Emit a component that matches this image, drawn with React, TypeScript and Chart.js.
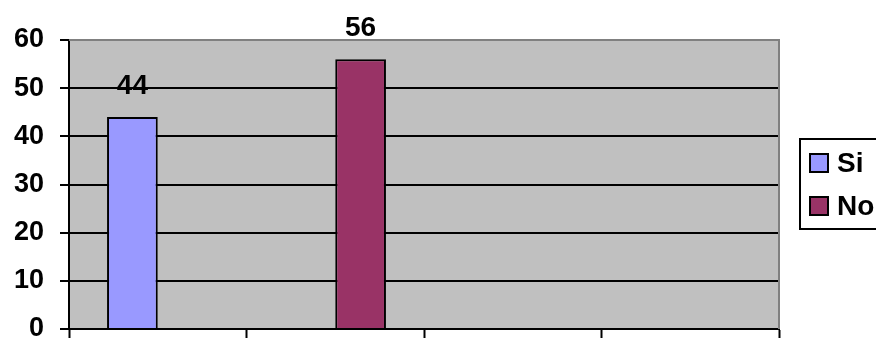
import { useEffect, useRef } from 'react';
import { Chart, registerables } from 'chart.js';

Chart.register(...registerables);

// Survey answers: each series occupies its own slot in a grouped column chart
const categories = ['1', '2', '3', '4'];
const seriesNames = ['Si', 'No'];
const siValues = [44, null, null, null];
const noValues = [null, 56, null, null];
const seriesColors = ['#9999FF', '#993366'];
const yMin = 0;
const yMax = 60;
const yStep = 10;

const FONT = '"Liberation Sans", Arial, sans-serif';

// Gray plot background with a gray frame on the top and right edges
const plotFrame = {
  id: 'plotFrame',
  beforeDraw(chart: any) {
    const { ctx, chartArea: a } = chart;
    ctx.save();
    ctx.fillStyle = '#C0C0C0';
    ctx.fillRect(a.left, a.top, a.right - a.left, a.bottom - a.top);
    ctx.restore();
  },
  beforeDatasetsDraw(chart: any) {
    const { ctx, chartArea: a } = chart;
    ctx.save();
    ctx.strokeStyle = '#808080';
    ctx.lineWidth = 2;
    ctx.beginPath();
    ctx.moveTo(a.left, a.top);
    ctx.lineTo(a.right, a.top);
    ctx.lineTo(a.right, a.bottom);
    ctx.stroke();
    ctx.restore();
  },
};

// Value written above each column
const valueLabels = {
  id: 'valueLabels',
  afterDatasetsDraw(chart: any) {
    const { ctx } = chart;
    ctx.save();
    ctx.fillStyle = '#000';
    ctx.font = `bold 28px ${FONT}`;
    ctx.textAlign = 'center';
    ctx.textBaseline = 'alphabetic';
    chart.data.datasets.forEach((ds: any, i: number) => {
      const meta = chart.getDatasetMeta(i);
      meta.data.forEach((el: any, j: number) => {
        const v = ds.data[j];
        if (v === null || v === undefined) return;
        ctx.fillText(String(v), el.x, el.y - 23);
      });
    });
    ctx.restore();
  },
};

// Boxed legend to the right of the plot
const boxLegend = {
  id: 'boxLegend',
  afterDraw(chart: any) {
    const { ctx, chartArea: a } = chart;
    const left = a.right + 21;
    const top = 139;
    const bottom = 229;
    ctx.save();
    ctx.strokeStyle = '#000';
    ctx.lineWidth = 2;
    ctx.strokeRect(left, top, 200, bottom - top);
    ctx.font = `bold 28px ${FONT}`;
    ctx.textBaseline = 'middle';
    ctx.textAlign = 'left';
    chart.data.datasets.forEach((ds: any, i: number) => {
      const cy = 163 + i * 43;
      ctx.fillStyle = ds.backgroundColor;
      ctx.fillRect(left + 10, cy - 9, 18, 18);
      ctx.strokeStyle = '#000';
      ctx.lineWidth = 2;
      ctx.strokeRect(left + 10, cy - 9, 18, 18);
      ctx.fillStyle = '#000';
      ctx.fillText(ds.label, left + 37, cy + 1);
    });
    ctx.restore();
  },
};

export default function App() {
  const canvasRef = useRef<HTMLCanvasElement | null>(null);

  useEffect(() => {
    const canvas = canvasRef.current;
    if (!canvas) return;
    const chart = new Chart(canvas, {
      type: 'bar',
      data: {
        labels: categories,
        datasets: [
          {
            label: seriesNames[0],
            data: siValues,
            backgroundColor: seriesColors[0],
            borderColor: '#000',
            borderWidth: 2,
            categoryPercentage: 4 / 7,
            barPercentage: 1,
          },
          {
            label: seriesNames[1],
            data: noValues,
            backgroundColor: seriesColors[1],
            borderColor: '#000',
            borderWidth: 2,
            categoryPercentage: 4 / 7,
            barPercentage: 1,
          },
        ],
      },
      options: {
        responsive: false,
        animation: false,
        layout: { padding: { top: 40, right: 97, bottom: 0, left: 0 } },
        plugins: {
          legend: { display: false },
          tooltip: { enabled: false },
        },
        scales: {
          x: {
            offset: true,
            grid: {
              offset: true,
              drawOnChartArea: false,
              drawTicks: true,
              tickLength: 9,
              tickColor: '#000',
              tickWidth: 2,
            },
            border: { display: true, color: '#000', width: 2 },
            ticks: { display: false },
            afterFit(scale: any) {
              scale.height = 9;
              scale.paddingLeft = 0;
              scale.paddingRight = 0;
            },
          },
          y: {
            min: yMin,
            max: yMax,
            ticks: {
              stepSize: yStep,
              color: '#000',
              padding: 16,
              font: { family: FONT, size: 27, weight: 'bold' },
            },
            grid: {
              color: (c: any) => (c.tick && c.tick.value === yMax ? 'rgba(0,0,0,0)' : '#000'),
              lineWidth: 2,
              tickLength: 9,
              tickColor: '#000',
              tickWidth: 2,
            },
            border: { display: true, color: '#000', width: 2 },
            afterFit(scale: any) {
              scale.width = 69;
              scale.paddingTop = 0;
              scale.paddingBottom = 0;
            },
          },
        },
      },
      plugins: [plotFrame, valueLabels, boxLegend],
    } as any);
    return () => chart.destroy();
  }, []);

  return (
    <div style={{ position: 'fixed', left: 0, top: 0, width: 876, height: 338, background: '#fff' }}>
      <canvas ref={canvasRef} width={876} height={338} />
    </div>
  );
}
